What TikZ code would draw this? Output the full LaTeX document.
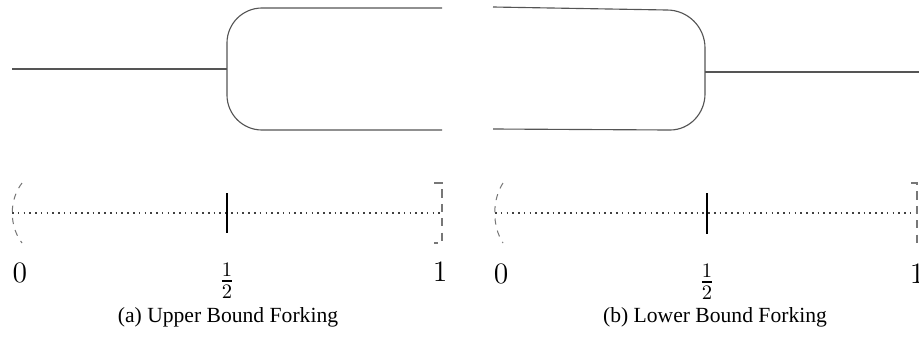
\documentclass[tikz,border=0pt]{standalone}
\usepackage{amsmath,amssymb}
\usepackage{fontspec}
\newfontfamily\captionfont{Liberation Serif}
\usepackage{tikz}
\usetikzlibrary{
  positioning,
  calc,
}
\definecolor{forkGray}{HTML}{555555}
\definecolor{dashGray}{HTML}{777777}
\tikzset{
  forkline/.style={
    draw=forkGray, line width=0.55pt,
  },
  forkbody/.style={
    draw=forkGray, line width=0.55pt, rounded corners=17pt,
  },
  axisline/.style={
    draw=black!75, line width=0.8pt, dotted,
  },
  tickmark/.style={
    draw=black, line width=0.9pt,
  },
  openend/.style={
    draw=dashGray, line width=0.5pt, dash pattern=on 3pt off 3pt,
  },
  closedend/.style={
    draw=dashGray, line width=0.5pt, dash pattern=on 4pt off 3pt,
  },
  axislabel/.style={
    inner sep=0pt, font=\Large,
  },
  subcaption/.style={
    inner sep=0pt, font=\captionfont\fontsize{10.5}{12}\selectfont,
  },
}

\begin{document}
\begin{tikzpicture}[x=0.486pt, y=-0.486pt]
\useasboundingbox (0,0) rectangle (919,337);

% (a) upper bound fork
\coordinate (a-in) at (12,69);
\coordinate (a-split) at (227,69);
\coordinate (a-top) at (442,8);
\coordinate (a-bot) at (442,130);
\draw[forkline] (a-in) -- (a-split);
\draw[forkbody] (a-top) -- (a-split |- a-top) -- (a-split |- a-bot) -- (a-bot);

% (b) lower bound fork
\coordinate (b-top) at (493,7);
\coordinate (b-bot) at (493,129);
\coordinate (b-join) at (705,72);
\coordinate (b-out) at (919,72);
\draw[forkline] (b-top) -- (667,10)
  .. controls (688,10) and (705,27) .. (705,48) -- (b-join) -- (705,94)
  .. controls (705,113) and (690,130) .. (670,130) -- (b-bot);
\draw[forkline] (b-join) -- (b-out);

% (a) unit interval
\coordinate (a-lo) at (12,213);
\coordinate (a-hi) at (442,213);
\coordinate (a-mid) at (227,213);
\draw[axisline] (a-lo) -- (a-hi);
\draw[tickmark] ($(a-mid)+(0,-20)$) -- ($(a-mid)+(0,20)$);
\draw[openend] (22,183) .. controls (9,200) and (9,226) .. (22,243);
\draw[closedend] (434,183) -- (a-hi |- 0,183) -- (a-hi |- 0,243) -- (434,243);
\node[axislabel] (a-zero) at (20,273) {$0$};
\node[axislabel] (a-half) at (227,281) {$\frac{1}{2}$};
\node[axislabel] (a-one) at (440,272) {$1$};

% (b) unit interval
\coordinate (b-lo) at (495,213);
\coordinate (b-hi) at (917,213);
\coordinate (b-mid) at (707,213);
\draw[axisline] (b-lo) -- (b-hi);
\draw[tickmark] ($(b-mid)+(0,-20)$) -- ($(b-mid)+(0,21)$);
\draw[openend] (503,183) .. controls (492,200) and (492,226) .. (503,243);
\draw[closedend] (911,183) -- (b-hi |- 0,183) -- (b-hi |- 0,243) -- (911,243);
\node[axislabel] (b-zero) at (501,274) {$0$};
\node[axislabel] (b-half) at (707,282) {$\frac{1}{2}$};
\node[axislabel] (b-one) at (917,274) {$1$};

\node[subcaption] (a-caption) at (228,317) {(a) Upper Bound Forking};
\node[subcaption] (b-caption) at (715,317) {(b) Lower Bound Forking};
\end{tikzpicture}
\end{document}
